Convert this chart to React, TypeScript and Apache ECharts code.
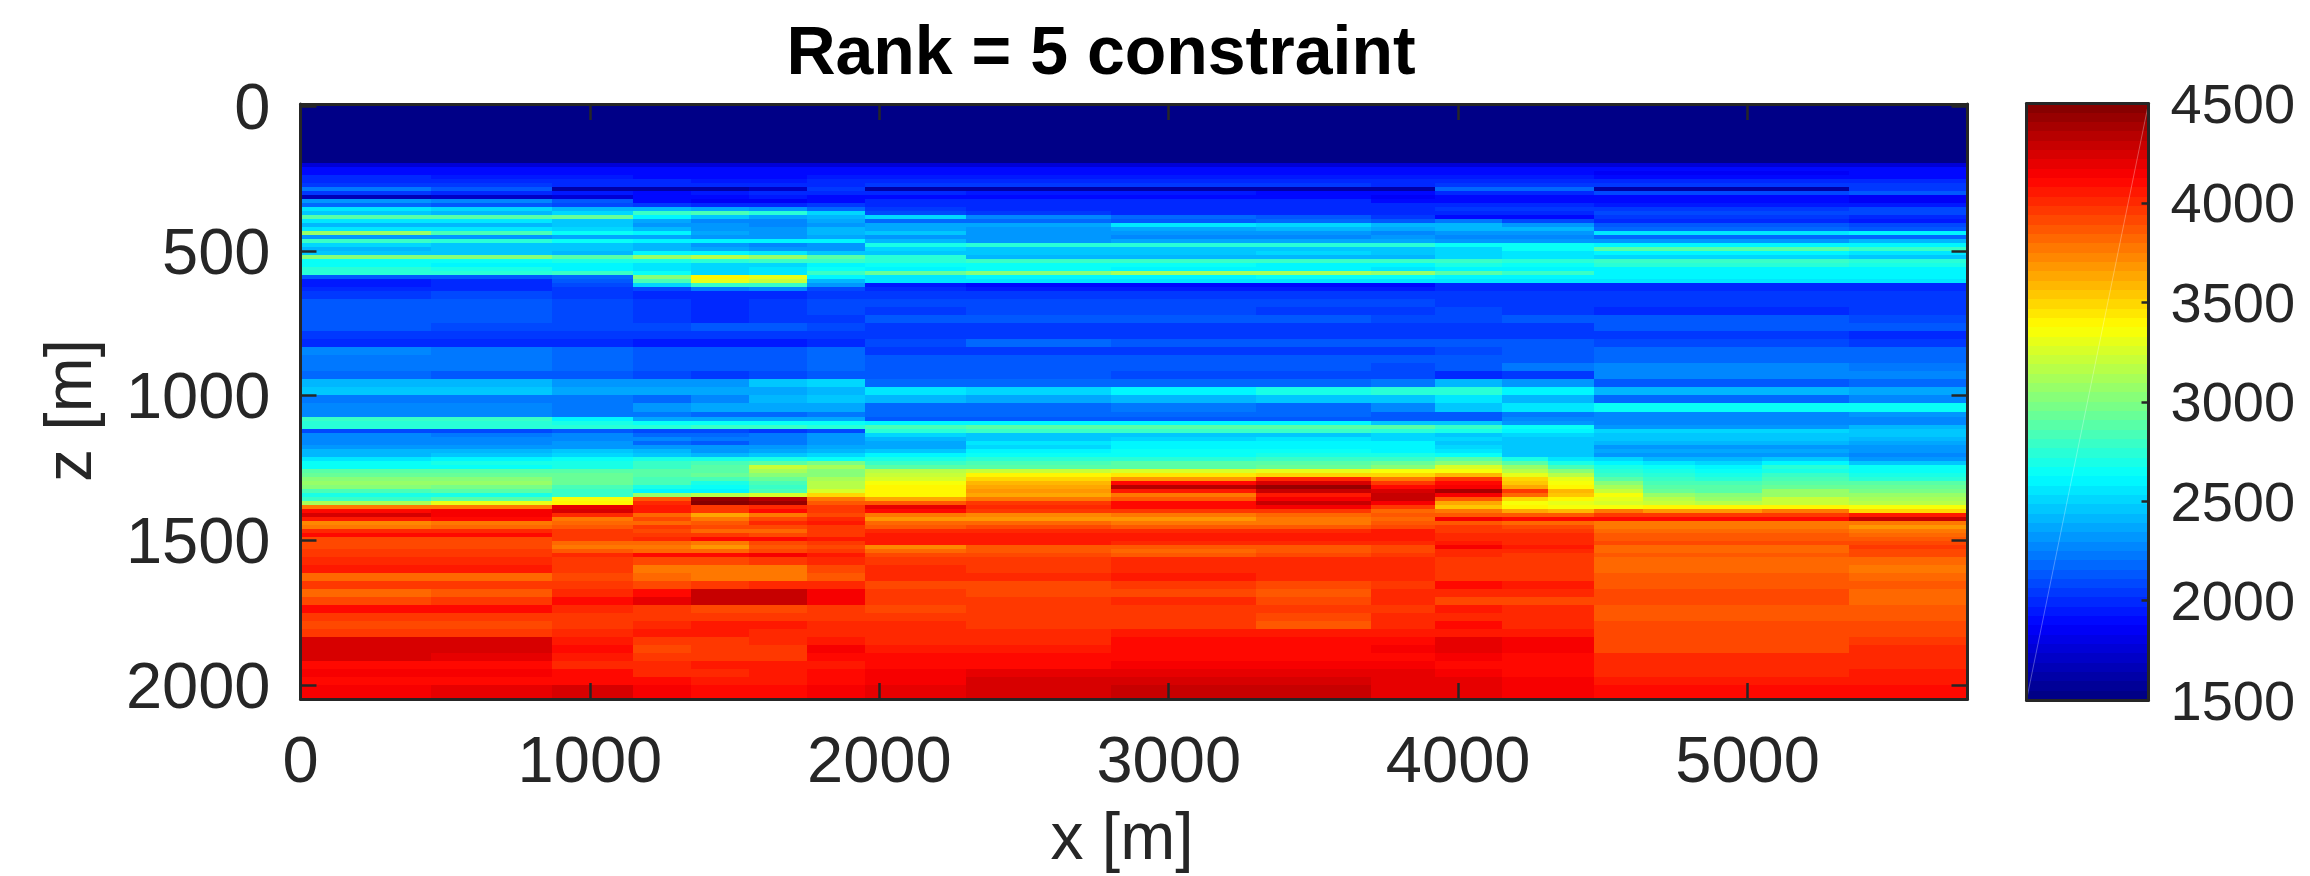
import React, { useEffect, useRef } from "react";
import * as echarts from "echarts";

const titleText = "Rank = 5 constraint";
const xName = "x [m]";
const zName = "z [m]";
const xTicks = [0, 1000, 2000, 3000, 4000, 5000];
const zTicks = [0, 500, 1000, 1500, 2000];
const colorTicks = [1500, 2000, 2500, 3000, 3500, 4000, 4500];
const xEdges = [0, 450, 870, 1150, 1350, 1550, 1750, 1950, 2300, 2800, 3300, 3700, 3920, 4150, 4470, 5350, 5760];
const zTops = [-8, 196, 210, 224, 238, 252, 265, 279, 293, 307, 321, 334, 348, 362, 376, 390, 404, 417, 431, 445, 459, 473, 487, 500, 514, 528, 542, 556, 569, 583, 597, 611, 625,
  638, 666, 693, 721, 749, 776, 804, 832, 859, 887, 915, 942, 970, 998, 1025,
  1055, 1073, 1087, 1101, 1115, 1128, 1142, 1156, 1170, 1184, 1198, 1211, 1225, 1239, 1253, 1267, 1280, 1294, 1308, 1322, 1336, 1350, 1363, 1377, 1391, 1405, 1419, 1432, 1446, 1460, 1474, 1488, 1501, 1515, 1529, 1543, 1557, 1584, 1612, 1640, 1667, 1695, 1723, 1750, 1778, 1806, 1833, 1861, 1888, 1916, 1944, 1971, 1999];
const zBottom = 2048;
const velocity = [
  [1500,1500,1500,1500,1500,1500,1500,1500,1500,1500,1500,1500,1500,1500,1500,1500],
  [1770,1770,1770,1770,1770,1770,1770,1770,1770,1770,1770,1770,1770,1770,1770,1770],
  [1900,1880,1880,1880,1880,1880,1880,1880,1880,1880,1880,1880,1880,1880,1880,1880],
  [1900,1900,1920,1880,1880,1880,1890,1900,1900,1900,1890,1890,1900,1890,1870,1880],
  [1990,1960,1940,1920,1900,1900,1930,1950,1940,1940,1930,1930,1960,1950,1900,1900],
  [2010,2000,1990,1970,1960,1960,1980,2000,1990,1980,1980,1980,2010,2010,2000,2010],
  [2040,2020,2010,2000,2000,2000,2010,2020,2020,2020,2020,2000,2040,2020,2020,2040],
  [2210,2120,1600,1600,1600,1700,2050,1600,1600,1600,1600,1600,2170,2170,1600,2050],
  [2040,2000,1950,1900,1950,2000,1980,2000,1950,1950,1900,1900,1980,2000,2080,2120],
  [1650,1700,1780,1880,1900,1950,1900,1880,1880,1880,1880,1850,1880,1880,1880,1850],
  [2300,2260,2130,1880,1850,1850,1880,2000,2000,1980,1980,1900,1880,1880,1880,1850],
  [2200,2150,2100,2030,1980,2000,2050,1990,1990,1990,1980,1980,2000,1990,1950,1930],
  [2550,2530,2400,2400,2350,2300,2200,2050,2000,2000,2000,2000,2050,2050,2030,2100],
  [2450,2430,2520,2800,2850,2750,2500,2080,2020,2000,1990,1980,2000,2000,2080,2100],
  [2900,2900,2950,2600,2450,2380,2400,2500,2250,2200,2120,2050,1900,1880,2050,2000],
  [2550,2560,2480,2380,2280,2280,2350,2200,2160,2150,2200,2150,2230,2100,1980,1950],
  [2400,2430,2450,2300,2300,2280,2300,2350,2350,2550,2520,2400,2400,2300,2150,2080],
  [2560,2540,2500,2400,2300,2330,2420,2370,2300,2350,2400,2350,2430,2400,2200,2150],
  [3050,2850,2650,2600,2350,2300,2420,2480,2340,2340,2300,2280,2300,2320,2550,2620],
  [2300,2330,2350,2350,2330,2340,2380,2310,2300,2280,2280,2300,2280,2270,2200,2200],
  [2780,2760,2640,2620,2600,2600,2620,2430,2340,2380,2380,2350,2300,2330,2340,2400],
  [2500,2450,2450,2400,2300,2280,2330,2680,2740,2760,2760,2720,2650,2650,2620,2590],
  [2430,2450,2440,2400,2350,2300,2340,2500,2450,2460,2470,2480,2500,2650,2900,2800],
  [2480,2480,2430,2580,2600,2560,2480,2480,2480,2470,2500,2470,2530,2570,2600,2570],
  [3000,3000,2880,3050,3150,3050,2900,2750,2430,2430,2420,2400,2500,2550,2500,2450],
  [2650,2650,2700,2680,2750,2800,2800,2750,2780,2780,2780,2780,2780,2750,2800,2760],
  [2630,2620,2620,2550,2500,2500,2600,2650,2640,2630,2600,2620,2680,2640,2720,2700],
  [2720,2700,2620,2550,2530,2550,2640,2620,2630,2620,2600,2540,2620,2600,2620,2580],
  [2730,2720,2800,2640,2520,2560,2800,2920,3000,3120,3100,3050,2900,2800,2620,2600],
  [2120,2130,2200,3000,3380,3300,2600,2560,2600,2620,2640,2640,2620,2600,2620,2620],
  [1960,1980,2120,2850,3300,3200,2420,2550,2550,2560,2560,2560,2560,2560,2550,2550],
  [1960,1980,2100,2500,2800,2800,2300,1950,1880,1880,1880,1920,2000,2000,2000,2000],
  [2000,2000,2050,2100,2240,2260,2100,2000,1950,1950,1930,1930,2000,2000,2000,2000],
  [2060,2070,2060,2000,2000,2000,2040,2040,2050,2040,2040,2040,2040,2040,2040,2040],
  [2140,2120,2090,2040,2000,2030,2080,2070,2080,2080,2080,2080,2060,2060,2050,2040],
  [2150,2130,2080,2050,2010,2040,2070,2060,2070,2070,2060,2060,2090,2060,2010,2020],
  [2130,2110,2080,2040,2000,2030,2060,2120,2130,2120,2110,2100,2090,2110,2130,2090],
  [2120,2100,2100,2100,2130,2150,2100,2060,2040,2040,2060,2060,2060,2060,2110,2120],
  [2040,2050,2040,2030,2030,2020,2040,2050,2050,2040,2040,2040,2040,2030,2030,2010],
  [1990,2000,1980,1950,1940,1950,2000,2100,2160,2150,2150,2130,2150,2130,2090,2060],
  [2250,2220,2190,2140,2130,2140,2180,2060,2040,2040,2040,2040,2080,2120,2180,2180],
  [2230,2220,2180,2150,2130,2140,2160,2150,2140,2140,2150,2130,2150,2120,2180,2190],
  [2220,2210,2170,2140,2110,2130,2170,2130,2120,2110,2110,2100,2130,2210,2260,2240],
  [2180,2150,2120,2090,2060,2100,2130,2120,2110,2090,2090,2080,2000,2040,2290,2260],
  [2420,2430,2340,2300,2320,2480,2500,2200,2180,2180,2200,2220,2420,2330,2150,2170],
  [2440,2440,2380,2380,2370,2380,2420,2560,2500,2620,2700,2750,2750,2600,2400,2390],
  [2230,2220,2220,2200,2260,2400,2450,2400,2380,2400,2450,2480,2540,2430,2180,2260],
  [2260,2270,2230,2330,2350,2380,2360,2200,2200,2230,2200,2250,2450,2550,2630,2640],
  [2280,2260,2240,2230,2180,2180,2230,2200,2170,2170,2170,2150,2130,2230,2290,2300],
  [2780,2780,2600,2350,2350,2350,2350,2130,2130,2130,2130,2130,2150,2250,2260,2290],
  [2750,2750,2680,2640,2640,2640,2650,2620,2620,2620,2600,2450,2450,2300,2280,2280],
  [2720,2720,2730,2750,2780,2780,2720,2850,2880,2900,2870,2860,2800,2650,2320,2400],
  [2100,2080,2150,2080,2070,2050,2100,2750,2780,2800,2780,2740,2680,2620,2500,2480],
  [2260,2240,2250,2200,2180,2210,2300,2520,2450,2480,2470,2500,2480,2500,2480,2460],
  [2270,2280,2280,2260,2240,2240,2300,2400,2470,2500,2540,2530,2500,2450,2440,2420],
  [2260,2290,2300,2180,2150,2240,2300,2350,2550,2600,2610,2600,2470,2460,2430,2360],
  [2300,2320,2330,2300,2300,2330,2360,2360,2500,2600,2620,2620,2500,2450,2340,2320],
  [2420,2430,2440,2400,2340,2380,2430,2480,2580,2630,2630,2620,2560,2440,2350,2300],
  [2420,2470,2500,2480,2400,2450,2530,2600,2630,2650,2680,2680,2640,2480,2300,2290],
  [2560,2580,2640,2680,2700,2680,2650,2680,2750,2760,2780,2800,2880,2600,2440,2340],
  [2640,2680,2680,2800,2850,2900,2960,2800,2830,2880,2880,2920,3000,2800,2620,2480],
  [2640,2650,2700,2800,2860,3200,3100,2900,2880,2900,2920,3000,3250,3000,2720,2640],
  [2870,2880,2880,2860,2880,3100,3000,3150,3230,3280,3300,3330,3350,3050,2700,2640],
  [2950,2950,2950,2900,2950,3000,3000,3200,3400,3450,3480,3500,3600,3200,2780,2700],
  [3000,3010,2920,2850,2850,2950,3100,3250,3500,3700,4000,3750,3950,3350,2820,2760],
  [3050,3050,2950,2820,2700,2850,3150,3350,3600,4080,4250,3950,4080,3450,2900,2880],
  [3000,2980,2820,2680,2650,2780,3150,3380,3650,4350,4450,4120,4150,3700,2950,2950],
  [2850,2880,2780,2620,2620,2820,3250,3400,3700,4050,4300,4250,4400,3800,3050,2980],
  [2680,2700,2800,3050,3150,3250,3500,3400,3650,3770,4050,4300,4150,3500,3050,3050],
  [2800,2900,3350,3850,4450,4350,3750,3650,3750,3850,4150,4300,3850,3350,3200,3100],
  [3100,3300,3400,4000,4500,4450,3850,3850,3950,4100,4280,4150,3650,3400,3200,3150],
  [3780,3780,4200,4050,3950,4000,3950,4200,4020,4100,4150,3950,3550,3450,3380,3350],
  [4100,4150,4250,4050,3950,4100,3950,4100,3950,3950,3950,3800,3750,3650,3750,3500],
  [4250,4150,4000,3800,3650,3750,3900,3750,3730,3750,3800,3880,3850,3880,3950,4050],
  [4050,4080,3780,3900,3750,3900,4000,3700,3700,3680,3750,3820,4130,4120,4080,4300],
  [3720,3760,3820,3820,3850,4000,4050,3800,3820,3780,3780,3880,3850,3800,3760,3780],
  [3780,3820,3880,3950,3900,3900,3950,3890,3900,3880,3850,3900,3950,3900,3780,3700],
  [4000,4000,3970,3920,3840,3800,3960,4030,4030,4000,4000,4050,3980,3950,3800,3750],
  [4100,4100,3980,3950,3950,3900,3960,4040,4050,4040,4040,4060,4030,4020,3880,3800],
  [3920,3900,3980,4000,4120,4100,4040,4040,4050,4040,4050,4040,3990,4000,3880,3860],
  [3930,3930,3800,3800,3750,3900,3980,4040,4040,4030,3990,4000,4050,4020,3920,3900],
  [3930,3930,3780,3760,3700,3850,3920,3740,3850,3880,3890,3920,4130,4060,3800,3950],
  [3950,3960,3850,3830,3830,3900,3960,3800,3880,3800,3860,3900,3990,4000,3800,3920],
  [3980,3960,4000,4100,4120,4150,4050,3920,3900,3880,3900,3950,3990,3950,3860,3900],
  [4020,4020,3960,3900,3920,3950,4000,3980,3980,4020,4000,4000,3980,3960,3840,3800],
  [4050,4060,3960,3780,3780,3770,3900,4030,3970,4020,4030,3990,3960,3960,3830,3780],
  [3800,3830,3930,3800,3770,3750,3880,4000,4020,4050,4000,3990,3980,3980,3870,3800],
  [3960,3980,3960,3900,3950,4000,4020,3900,3930,3950,3900,3950,4080,4050,3880,3850],
  [3800,3850,3990,4100,4280,4300,4150,3960,3900,3920,3870,4000,4020,4000,3900,3800],
  [3900,3950,4120,4200,4300,4300,4150,3980,3980,4000,3900,3990,3930,3920,3920,3820],
  [4100,4080,4000,3980,3900,3930,3980,3920,3950,3950,3960,3980,4060,3990,3880,3880],
  [3960,3960,3950,3950,3960,3950,3970,3960,3940,3960,3930,4000,4020,4000,3890,3880],
  [3900,3920,3940,4010,4040,4050,4010,3990,3960,3950,3880,4000,4080,4030,3900,3900],
  [3940,3970,4000,4040,4050,4030,4030,3990,3990,4040,4050,4050,4050,4040,3920,3930],
  [4250,4250,4060,3950,3980,3990,4060,4030,4030,4080,4090,4120,4200,4130,3930,3960],
  [4260,4260,4080,3930,3950,3960,4150,4050,4050,4100,4100,4130,4200,4130,3920,4000],
  [4230,4200,4050,3950,3970,3980,4100,4110,4110,4120,4110,4120,4170,4100,3990,4000],
  [4100,4090,4030,4000,4040,4040,4070,4110,4120,4150,4170,4170,4120,4110,4030,4020],
  [4150,4130,4080,4020,4030,4040,4100,4160,4180,4210,4210,4180,4150,4120,4020,4040],
  [4090,4110,4120,4100,4070,4060,4100,4170,4220,4250,4250,4200,4180,4130,4060,4060],
  [4130,4180,4230,4150,4090,4090,4130,4190,4260,4280,4280,4210,4200,4130,4090,4090],
];

// Finer reading of the slope east of x = 4150
const slopeEdges = [4150, 4310, 4470, 4640, 4820, 5050];
const slopeTops = [1211, 1225, 1239, 1253, 1267, 1280, 1294, 1308, 1322, 1336, 1350, 1363, 1377, 1391, 1405];
const slopeVelocity = [
  [2700,2550,2500,2420,2400],
  [2880,2700,2620,2560,2520],
  [3050,2850,2700,2640,2620],
  [3150,3000,2760,2680,2660],
  [3300,3180,2800,2720,2700],
  [3500,3300,2880,2780,2760],
  [3550,3360,3000,2850,2820],
  [3650,3400,3100,2900,2880],
  [3950,3600,3200,2950,2900],
  [3800,3550,3350,3050,3000],
  [3500,3420,3300,3150,3050],
  [3350,3300,3250,3200,3150],
  [3420,3350,3350,3380,3380],
  [3650,3600,3750,3700,3700],
];

const V_MIN = 1500;
const V_MAX = 4500;
const LEVELS = 64;
const INK = "#262626";
const FONT = "'Liberation Sans', Arial, sans-serif";

function jet(v: number): string {
  const idx = Math.max(0, Math.min(LEVELS - 1, Math.floor(((v - V_MIN) / (V_MAX - V_MIN)) * LEVELS)));
  const t = (idx + 0.5) / LEVELS;
  const ch = (c: number) => Math.round(255 * Math.max(0, Math.min(1, Math.min(4 * (t - c) + 1.5, -4 * (t - c) + 1.5))));
  return `rgb(${ch(0.75)},${ch(0.5)},${ch(0.25)})`;
}

const cells: number[][] = [];
velocity.forEach((row, r) => {
  const z0 = zTops[r];
  const z1 = r + 1 < zTops.length ? zTops[r + 1] : zBottom;
  row.forEach((v, c) => cells.push([xEdges[c], xEdges[c + 1], z0, z1, v]));
});
slopeVelocity.forEach((row, r) => {
  row.forEach((v, c) => cells.push([slopeEdges[c], slopeEdges[c + 1], slopeTops[r], slopeTops[r + 1], v]));
});

const barCells: number[][] = [];
for (let i = 0; i < LEVELS; i++) {
  const step = (V_MAX - V_MIN) / LEVELS;
  barCells.push([0, 1, V_MIN + i * step, V_MIN + (i + 1) * step, V_MIN + (i + 0.5) * step]);
}

function renderCell(_: any, api: any) {
  const p0 = api.coord([api.value(0), api.value(2)]);
  const p1 = api.coord([api.value(1), api.value(3)]);
  const x0 = Math.round(Math.min(p0[0], p1[0]));
  const x1 = Math.round(Math.max(p0[0], p1[0]));
  const y0 = Math.round(Math.min(p0[1], p1[1]));
  const y1 = Math.round(Math.max(p0[1], p1[1]));
  return {
    type: "rect",
    shape: { x: x0, y: y0, width: x1 - x0, height: y1 - y0 },
    style: { fill: jet(api.value(4)) },
  };
}

const line = { show: true, onZero: false, lineStyle: { color: INK, width: 3 } };
const labelStyle = { color: INK, fontFamily: FONT, fontSize: 65 };
const plain = (v: number) => String(v);

export default function App() {
  const ref = useRef<HTMLDivElement>(null);
  useEffect(() => {
    document.body.style.margin = "0";
    const chart = echarts.init(ref.current!, null, { renderer: "svg" });
    chart.setOption({
      animation: false,
      backgroundColor: "#ffffff",
      title: {
        text: titleText,
        left: 1096,
        top: 11,
        textAlign: "center",
        textStyle: { color: "#000000", fontFamily: FONT, fontWeight: "bold", fontSize: 68 },
      },
      grid: [
        { left: 300.5, width: 1667, top: 104, height: 595 },
        { left: 2026.5, width: 122, top: 103.5, height: 596.5 },
      ],
      xAxis: [
        {
          type: "value", gridIndex: 0, position: "bottom", min: 0, max: 5760, interval: 1000, z: 10,
          name: xName, nameLocation: "middle", nameGap: 104,
          nameTextStyle: { ...labelStyle, fontSize: 66, padding: [0, 24, 0, 0] },
          axisLine: line, splitLine: { show: false },
          axisTick: { show: true, inside: true, length: 16, customValues: xTicks, lineStyle: { color: INK, width: 2.5 } },
          axisLabel: { ...labelStyle, margin: 28, customValues: xTicks, formatter: plain },
        },
        {
          type: "value", gridIndex: 0, position: "top", min: 0, max: 5760, interval: 1000, z: 10,
          axisLine: line, splitLine: { show: false },
          axisTick: { show: true, inside: true, length: 16, customValues: xTicks, lineStyle: { color: INK, width: 2.5 } },
          axisLabel: { show: false },
        },
        {
          type: "value", gridIndex: 1, position: "bottom", min: 0, max: 1, z: 10,
          axisLine: line, splitLine: { show: false }, axisTick: { show: false }, axisLabel: { show: false },
        },
        {
          type: "value", gridIndex: 1, position: "top", min: 0, max: 1, z: 10,
          axisLine: line, splitLine: { show: false }, axisTick: { show: false }, axisLabel: { show: false },
        },
      ],
      yAxis: [
        {
          type: "value", gridIndex: 0, position: "left", inverse: true, min: -8, max: 2048, z: 10,
          name: zName, nameLocation: "middle", nameGap: 200, nameRotate: 90,
          nameTextStyle: { ...labelStyle, fontSize: 66, padding: [0, 18, 0, 0] },
          axisLine: line, splitLine: { show: false },
          axisTick: { show: true, inside: true, length: 16, customValues: zTicks, lineStyle: { color: INK, width: 2.5 } },
          axisLabel: { ...labelStyle, margin: 30, customValues: zTicks, formatter: plain, padding: [16, 0, 0, 0] },
        },
        {
          type: "value", gridIndex: 0, position: "right", inverse: true, min: -8, max: 2048, z: 10,
          axisLine: line, splitLine: { show: false },
          axisTick: { show: true, inside: true, length: 16, customValues: zTicks, lineStyle: { color: INK, width: 2.5 } },
          axisLabel: { show: false },
        },
        {
          type: "value", gridIndex: 1, position: "left", min: V_MIN, max: V_MAX, z: 10,
          axisLine: line, splitLine: { show: false }, axisTick: { show: false }, axisLabel: { show: false },
        },
        {
          type: "value", gridIndex: 1, position: "right", min: V_MIN, max: V_MAX, interval: 500, z: 10,
          axisLine: line, splitLine: { show: false },
          axisTick: { show: true, inside: true, length: 7, lineStyle: { color: INK, width: 2.5 } },
          axisLabel: { ...labelStyle, fontSize: 56, margin: 22, customValues: colorTicks, formatter: plain, padding: [8, 0, 0, 0] },
        },
      ],
      series: [
        {
          type: "custom", name: "velocity", xAxisIndex: 0, yAxisIndex: 0, data: cells,
          encode: { x: [0, 1], y: [2, 3] }, renderItem: renderCell, silent: true, clip: true,
        },
        {
          type: "custom", name: "colorbar", xAxisIndex: 2, yAxisIndex: 2, data: barCells,
          encode: { x: [0, 1], y: [2, 3] }, renderItem: renderCell, silent: true, clip: true,
        },
        {
          type: "line", name: "colorbar seam", xAxisIndex: 2, yAxisIndex: 2, z: 5,
          data: [[0, V_MIN], [1, V_MAX]], showSymbol: false, silent: true,
          lineStyle: { color: "rgba(255,255,255,0.3)", width: 1 },
        },
      ],
    });
    return () => chart.dispose();
  }, []);
  return <div ref={ref} style={{ position: "absolute", left: 0, top: 0, width: 2310, height: 876 }} />;
}
